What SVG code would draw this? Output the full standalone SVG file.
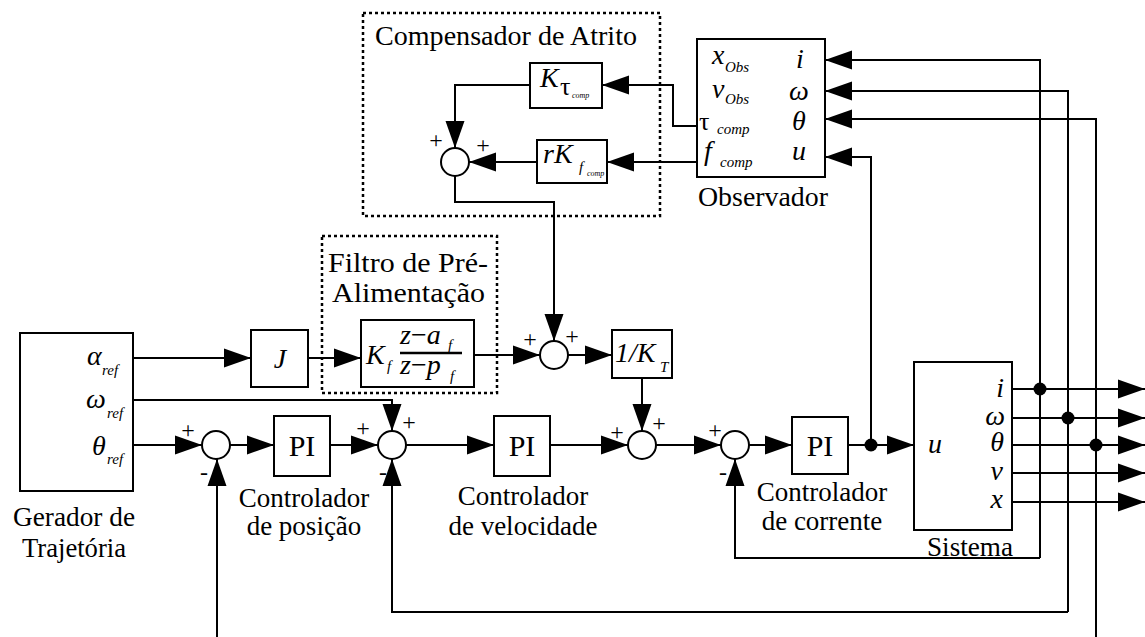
<svg xmlns="http://www.w3.org/2000/svg" width="1145" height="637" viewBox="0 0 1145 637">
  <defs>
    <style>
      .ln{fill:none;stroke:#000;stroke-width:2}
      .bx{fill:#fff;stroke:#000;stroke-width:2}
      .dash{fill:none;stroke:#000;stroke-width:2.5;stroke-dasharray:3 3}
      .sum{fill:#fff;stroke:#000;stroke-width:2}
      .t{font-family:"Liberation Serif","Times New Roman",serif;font-size:27px;fill:#000}
      .m{font-family:"Liberation Serif","Times New Roman",serif;font-style:italic;font-size:28px;fill:#000}
      .g{font-family:"Liberation Serif","Times New Roman",serif;font-size:26px;fill:#000}
      .s{font-family:"Liberation Serif","Times New Roman",serif;font-style:italic;font-size:15px;fill:#000}
      .xs{font-family:"Liberation Serif","Times New Roman",serif;font-style:italic;font-size:8px;fill:#000}
      .pm{font-family:"Liberation Serif","Times New Roman",serif;font-size:24px;fill:#000;text-anchor:middle}
      .pi{font-family:"Liberation Serif","Times New Roman",serif;font-size:30px;fill:#000;text-anchor:middle}
      .c{text-anchor:middle}
      .r{text-anchor:end}
    </style>
    <marker id="ah" markerUnits="userSpaceOnUse" markerWidth="28" markerHeight="20" refX="27" refY="10" orient="auto">
      <path d="M0,0.5 L27,10 L0,19.5 z" fill="#000"/>
    </marker>
  </defs>
  <rect width="1145" height="637" fill="#fff"/>

  <!-- connectors -->
  <g id="connectors" class="ln">
    <path d="M133,358 H251" marker-end="url(#ah)"/>
    <path d="M308,358 H361" marker-end="url(#ah)"/>
    <path d="M474,355 H540" marker-end="url(#ah)"/>
    <path d="M568,355 H612" marker-end="url(#ah)"/>
    <path d="M642,378 V431" marker-end="url(#ah)"/>
    <path d="M455,176 V202 H554 V341" marker-end="url(#ah)"/>
    <path d="M530,85 H455 V148" marker-end="url(#ah)"/>
    <path d="M537,162 H469" marker-end="url(#ah)"/>
    <path d="M697,126 H673 V85 H602" marker-end="url(#ah)"/>
    <path d="M697,162 H607" marker-end="url(#ah)"/>
    <path d="M133,445 H202" marker-end="url(#ah)"/>
    <path d="M230,445 H274" marker-end="url(#ah)"/>
    <path d="M330,445 H378" marker-end="url(#ah)"/>
    <path d="M133,400 H392 V431" marker-end="url(#ah)"/>
    <path d="M406,445 H494" marker-end="url(#ah)"/>
    <path d="M550,445 H628" marker-end="url(#ah)"/>
    <path d="M656,445 H721" marker-end="url(#ah)"/>
    <path d="M749,445 H792" marker-end="url(#ah)"/>
    <path d="M848,445 H914" marker-end="url(#ah)"/>
    <path d="M871,445 V157 H825" marker-end="url(#ah)"/>
    <path d="M1040,558 V60 H825" marker-end="url(#ah)"/>
    <path d="M1040,558 H735 V459" marker-end="url(#ah)"/>
    <path d="M1068,612 V91 H825" marker-end="url(#ah)"/>
    <path d="M1068,612 H392 V459" marker-end="url(#ah)"/>
    <path d="M1096,637 V119 H825" marker-end="url(#ah)"/>
    <path d="M217,637 V459" marker-end="url(#ah)"/>
    <path d="M1012,389 H1145" marker-end="url(#ah)"/>
    <path d="M1012,418 H1145" marker-end="url(#ah)"/>
    <path d="M1012,445 H1145" marker-end="url(#ah)"/>
    <path d="M1012,473 H1145" marker-end="url(#ah)"/>
    <path d="M1012,502 H1145" marker-end="url(#ah)"/>
  </g>
  <g id="junctions" fill="#000">
    <circle cx="871" cy="445" r="6.5"/>
    <circle cx="1040" cy="389" r="6.5"/>
    <circle cx="1068" cy="418" r="6.5"/>
    <circle cx="1096" cy="445" r="6.5"/>
  </g>

  <!-- friction compensator -->
  <g id="compensador">
    <rect class="dash" x="363" y="13" width="297" height="203"/>
    <text class="t" x="375" y="45" textLength="262" lengthAdjust="spacingAndGlyphs">Compensador de Atrito</text>
  </g>
  <g id="k-tau">
    <rect class="bx" x="530" y="63" width="72" height="45"/>
    <text class="m" x="540" y="87">K</text>
    <text class="g" x="560" y="95" font-size="15">τ</text>
    <text class="xs" x="572" y="98">comp</text>
  </g>
  <g id="rk-f">
    <rect class="bx" x="537" y="140" width="70" height="43"/>
    <text class="m" x="543" y="163">rK</text>
    <text class="s" x="579" y="172">f</text>
    <text class="xs" x="587" y="176">comp</text>
  </g>
  <g id="sum-comp">
    <circle class="sum" cx="455" cy="162" r="14"/>
    <text class="pm" x="436" y="148">+</text>
    <text class="pm" x="483" y="153">+</text>
  </g>

  <!-- observer -->
  <g id="observador">
    <rect class="bx" x="697" y="39" width="128" height="138"/>
    <text class="m" x="712" y="64" font-size="26">x</text>
    <text class="s" x="725" y="72">Obs</text>
    <text class="m" x="712" y="98" font-size="26">v</text>
    <text class="s" x="725" y="104">Obs</text>
    <text class="g" x="699" y="130">τ</text>
    <text class="s" x="717" y="134">comp</text>
    <text class="m" x="704" y="160" font-size="26">f</text>
    <text class="s" x="720" y="167">comp</text>
    <text class="m c" x="800" y="68" font-size="26">i</text>
    <text class="m c" x="799" y="100" font-size="26">ω</text>
    <text class="m c" x="799" y="130" font-size="26">θ</text>
    <text class="m c" x="799" y="160" font-size="26">u</text>
    <text class="t" x="698" y="206" textLength="130" lengthAdjust="spacingAndGlyphs">Observador</text>
  </g>

  <!-- feed-forward filter -->
  <g id="filtro">
    <rect class="dash" x="322" y="236" width="175" height="157"/>
    <text class="t" x="328" y="272" textLength="160" lengthAdjust="spacingAndGlyphs">Filtro de Pré-</text>
    <text class="t" x="332" y="302" textLength="153" lengthAdjust="spacingAndGlyphs">Alimentação</text>
    <rect class="bx" x="361" y="320" width="113" height="67"/>
    <text class="m" x="366" y="364" font-size="26">K</text>
    <text class="s" x="387" y="371">f</text>
    <text class="m" x="400" y="344" font-size="24">z<tspan font-style="normal">−</tspan>a</text>
    <text class="s" x="448" y="350" font-size="13">f</text>
    <line x1="400" y1="353" x2="462" y2="353" stroke="#000" stroke-width="2.5"/>
    <text class="m" x="400" y="374" font-size="24">z<tspan font-style="normal">−</tspan>p</text>
    <text class="s" x="450" y="381" font-size="13">f</text>
  </g>
  <g id="j">
    <rect class="bx" x="251" y="330" width="57" height="57"/>
    <text class="m c" x="280" y="368">J</text>
  </g>
  <g id="sum-ff">
    <circle class="sum" cx="554" cy="355" r="14"/>
    <text class="pm" x="530" y="347">+</text>
    <text class="pm" x="572" y="344">+</text>
  </g>
  <g id="inv-kt">
    <rect class="bx" x="612" y="330" width="60" height="48"/>
    <text class="m" x="615" y="362">1/K</text>
    <text class="s" x="660" y="372" font-size="16">T</text>
  </g>

  <!-- trajectory generator -->
  <g id="gerador">
    <rect class="bx" x="20" y="333" width="113" height="158"/>
    <text class="m" x="87" y="365">α</text>
    <text class="s" x="102" y="375">ref</text>
    <text class="m" x="86" y="408">ω</text>
    <text class="s" x="107" y="418">ref</text>
    <text class="m" x="92" y="455">θ</text>
    <text class="s" x="107" y="464">ref</text>
    <text class="t c" x="74" y="526" font-size="26" textLength="122" lengthAdjust="spacingAndGlyphs">Gerador de</text>
    <text class="t c" x="74" y="557" font-size="26" textLength="104" lengthAdjust="spacingAndGlyphs">Trajetória</text>
  </g>

  <!-- position loop -->
  <g id="sum-pos">
    <circle class="sum" cx="216" cy="445" r="14"/>
    <text class="pm" x="188" y="438">+</text>
    <text class="pm" x="204" y="480">-</text>
  </g>
  <g id="pi-pos">
    <rect class="bx" x="274" y="416" width="56" height="60"/>
    <text class="pi" x="302" y="456">PI</text>
    <text class="t c" x="304" y="507">Controlador</text>
    <text class="t c" x="304" y="535">de posição</text>
  </g>

  <!-- velocity loop -->
  <g id="sum-vel">
    <circle class="sum" cx="392" cy="445" r="14"/>
    <text class="pm" x="363" y="436">+</text>
    <text class="pm" x="409" y="430">+</text>
    <text class="pm" x="383" y="480">-</text>
  </g>
  <g id="pi-vel">
    <rect class="bx" x="494" y="416" width="56" height="60"/>
    <text class="pi" x="522" y="456">PI</text>
    <text class="t c" x="523" y="505">Controlador</text>
    <text class="t c" x="523" y="535">de velocidade</text>
  </g>
  <g id="sum-torque">
    <circle class="sum" cx="642" cy="445" r="14"/>
    <text class="pm" x="617" y="440">+</text>
    <text class="pm" x="659" y="431">+</text>
  </g>

  <!-- current loop -->
  <g id="sum-cur">
    <circle class="sum" cx="735" cy="445" r="14"/>
    <text class="pm" x="715" y="438">+</text>
    <text class="pm" x="723" y="480">-</text>
  </g>
  <g id="pi-cur">
    <rect class="bx" x="792" y="417" width="56" height="57"/>
    <text class="pi" x="820" y="456">PI</text>
    <text class="t c" x="822" y="501">Controlador</text>
    <text class="t c" x="822" y="530">de corrente</text>
  </g>

  <!-- plant -->
  <g id="sistema">
    <rect class="bx" x="914" y="362" width="98" height="168"/>
    <text class="m" x="928" y="453" font-size="26">u</text>
    <text class="m r" x="1004" y="397" font-size="24">i</text>
    <text class="m r" x="1005" y="425" font-size="24">ω</text>
    <text class="m r" x="1004" y="451" font-size="24">θ</text>
    <text class="m r" x="1003" y="480" font-size="24">v</text>
    <text class="m r" x="1003" y="508" font-size="24">x</text>
    <text class="t" x="927" y="556" textLength="86" lengthAdjust="spacingAndGlyphs">Sistema</text>
  </g>
</svg>
